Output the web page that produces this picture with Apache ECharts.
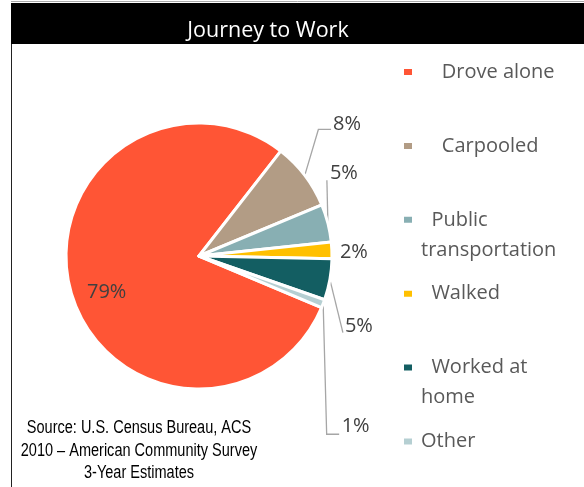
<!DOCTYPE html>
<html><head><meta charset="utf-8">
<script src="https://cdn.jsdelivr.net/npm/echarts@6/dist/echarts.min.js"></script>
<style>html,body{margin:0;padding:0;background:#fff}#c{width:584px;height:487px}</style>
</head><body><div id="c"></div>
<script>
// ---- data ----
const categories = ['Drove alone', 'Carpooled', 'Public transportation', 'Walked', 'Worked at home', 'Other'];
const shares = [79.2, 8.2, 4.6, 2.0, 5.0, 1.0];
const legendLabels = ['    Drove alone', '    Carpooled', '  Public\ntransportation', '  Walked', '  Worked at\nhome', 'Other'];
const titleText = 'Journey to Work';
const sourceLines = ['Source: U.S. Census Bureau, ACS', '2010 \u2013 American Community Survey', '3-Year Estimates'];

// ---- styling / layout ----
const colors = ['#FF5535', '#B29C85', '#88AFB3', '#FFC000', '#135E62', '#B5CFD2'];
const CX = 199, CY = 256, R = 133, START = 337.2;
const LEG_X = 402, LEG_Y0 = 72, LEG_STEP = 73.9, LINE_H = 30;
const labelGeo = [
  {inner: true, off: [-28, 19.5]},
  {label: [28.3, -51.5], line: [[13.6, -45.9], [26.3, -45.9]]},
  {label: [2, -50], line: [[-1, -43]]},
  {label: [8, 1.5]},
  {label: [15, 46.8], line: [[13, 53]]},
  {label: [18.5, 123], line: [[3.5, 130.6], [16, 130.6]]}
];
const total = shares.reduce((a, b) => a + b, 0);
function midAngle(i) {
  const cum = shares.slice(0, i).reduce((a, b) => a + b, 0) + shares[i] / 2;
  return (START - cum / total * 360) * Math.PI / 180;
}
function pointAt(i, r) {
  const a = midAngle(i);
  return [CX + r * Math.cos(a), CY - r * Math.sin(a)];
}
// three text lines per legend item: the icon sits at the middle line, which is the label's first line
function legendText(name) {
  const parts = legendLabels[categories.indexOf(name)].split('\n');
  return [' ', parts[0], parts[1] !== undefined ? parts[1] : ' '].join('\n');
}

const chart = echarts.init(document.getElementById('c'));
const font = '"Open Sans", "Noto Sans", sans-serif';
chart.setOption({
  animation: false,
  color: colors,
  graphic: [
    {type: 'rect', shape: {x: 11, y: 3, width: 573, height: 41}, style: {fill: '#000'}, z: 0},
    {type: 'line', shape: {x1: 11, y1: 1.5, x2: 584, y2: 1.5}, style: {stroke: '#aaa', lineWidth: 1}},
    {type: 'line', shape: {x1: 11.5, y1: 44, x2: 11.5, y2: 487}, style: {stroke: '#222', lineWidth: 1}},
    {type: 'text', x: 268, y: 30.5, z: 5, style: {text: titleText, fill: '#fff', font: '21.5px ' + font, align: 'center', verticalAlign: 'middle'}},
    {type: 'text', x: 139, y: 451, z: 5, scaleX: 0.83,
      style: {text: sourceLines.join('\n'), fill: '#000', font: '17.5px "Liberation Sans", Arial, sans-serif', lineHeight: 22.5, align: 'center', verticalAlign: 'middle'}}
  ],
  legend: categories.map((n, i) => ({
    orient: 'vertical', left: LEG_X, top: LEG_Y0 + i * LEG_STEP - 1.5 * LINE_H, padding: 0,
    itemWidth: 10, itemHeight: 8, icon: 'rect',
    data: [n],
    formatter: legendText,
    textStyle: {fontFamily: font, fontSize: 20, lineHeight: LINE_H, color: '#595959', padding: [0, 0, 0, 3]}
  })),
  series: [{
    type: 'pie', center: [CX, CY], radius: R, startAngle: START, clockwise: true,
    avoidLabelOverlap: false,
    itemStyle: {borderColor: '#fff', borderWidth: 3},
    label: {show: true, position: 'outside', formatter: p => Math.round(p.percent) + '%',
      fontFamily: font, fontSize: 20, color: '#404040'},
    labelLine: {show: true, lineStyle: {color: '#A6A6A6', width: 1.3}},
    data: categories.map((n, i) => {
      const d = {name: n, value: shares[i]};
      if (labelGeo[i].inner) { d.label = {position: 'inside'}; d.labelLine = {show: false}; }
      else if (!labelGeo[i].line) { d.labelLine = {show: false}; }
      return d;
    }),
    labelLayout: function (p) {
      const i = p.dataIndex, g = labelGeo[i];
      if (g.inner) {
        const c = pointAt(i, R / 2);
        return {x: c[0] + g.off[0], y: c[1] + g.off[1], align: 'center', verticalAlign: 'middle'};
      }
      const o = pointAt(i, R);
      const res = {x: o[0] + g.label[0], y: o[1] + g.label[1], align: 'left', verticalAlign: 'middle'};
      if (g.line) res.labelLinePoints = [o].concat(g.line.map(d => [o[0] + d[0], o[1] + d[1]]));
      return res;
    }
  }]
});
</script></body></html>
